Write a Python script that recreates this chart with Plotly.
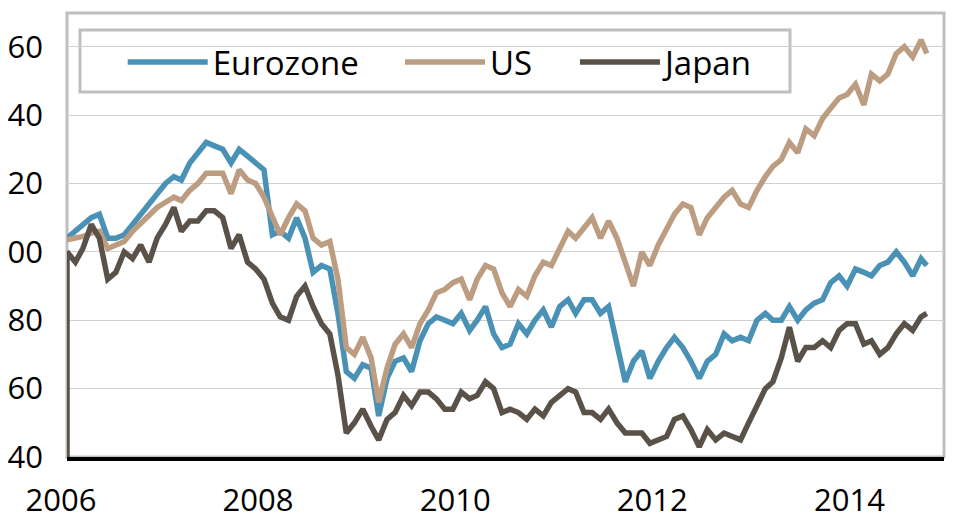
import pandas as pd
import plotly.graph_objects as go

# -----------------------------------
# Data (index levels, month starts)
# -----------------------------------

dates = list(
    pd.date_range("2006-01-01", "2014-09-01", freq="MS").strftime("%Y-%m-%d")
) + ["2014-09-22"]

eurozone = [
    104, 106, 108, 110, 111, 104, 104, 105, 108, 111, 114, 117, 120, 122, 121, 126, 129, 132,
    131, 130, 126, 130, 128, 126, 124, 105, 106, 104, 110, 104, 94, 96, 95, 82, 65, 63,
    67, 66, 52, 63, 68, 69, 65, 74, 79, 81, 80, 79, 82, 77, 80, 84, 76, 72,
    73, 79, 76, 80, 83, 78, 84, 86, 82, 86, 86, 82, 84, 72, 62, 68, 71, 63,
    68, 72, 75, 72, 68, 63, 68, 70, 76, 74, 75, 74, 80, 82, 80, 80, 84,
    80, 83, 85, 86, 91, 93, 90, 95, 94, 93, 96, 97, 100, 97, 93, 98,
    96,
]

us = [
    103.5, 104, 104.5, 105.5, 106, 101, 102, 103, 106, 108.5, 111, 113, 114.5, 116, 115, 118, 120, 123,
    123, 123, 117, 124, 121, 120, 116, 110, 105, 110, 114, 112, 104, 102, 103, 92, 72, 70,
    75, 69, 56, 66, 73, 76, 72, 79, 83, 88, 89, 91, 92, 86, 92, 96, 95, 88,
    84, 89, 87, 93, 97, 96, 101, 106, 104, 107, 110, 104, 109, 104, 97, 90, 100, 96,
    102, 107, 111, 114, 113, 105, 110, 113, 116, 118, 114, 113, 118, 122, 125, 127, 132,
    129, 136, 134, 139, 142, 145, 146, 149, 143, 152, 150, 152, 158, 160, 157, 162,
    158,
]

# first Japan value sits on the axis floor in the source (vertical start line)
japan_dates = [dates[0]] + dates
japan = [
    40,
    100, 97, 101, 108, 104, 92, 94, 100, 98, 102, 97, 104, 108, 113, 106, 109, 109, 112,
    112, 110, 101, 105, 97, 95, 92, 85, 81, 80, 87, 90, 84, 79, 76, 64, 47, 50,
    54, 49, 45, 51, 53, 58, 55, 59, 59, 57, 54, 54, 59, 57, 58, 62, 60, 53,
    54, 53, 51, 54, 52, 56, 58, 60, 59, 53, 53, 51, 54, 50, 47, 47, 47, 44,
    45, 46, 51, 52, 48, 43, 48, 45, 47, 46, 45, 50, 55, 60, 62, 69, 78,
    68, 72, 72, 74, 72, 77, 79, 79, 73, 74, 70, 72, 76, 79, 77, 81,
    82,
]

year_ticks = ["2006-01-01", "2008-01-01", "2010-01-01", "2012-01-01", "2014-01-01"]
year_labels = ["2006", "2008", "2010", "2012", "2014"]
y_ticks = [40, 60, 80, 100, 120, 140, 160]

BLUE = "#4A91B6"
TAN = "#BC9D82"
DARK = "#5A5249"
FONT = "Open Sans"

# -----------------------------------
# Figure
# -----------------------------------

fig = go.Figure()

fig.add_trace(go.Scatter(
    x=dates, y=eurozone, name="Eurozone", mode="lines",
    line=dict(color=BLUE, width=5.5), legend="legend",
))

fig.add_trace(go.Scatter(
    x=dates, y=us, name="US", mode="lines",
    line=dict(color=TAN, width=5.5), legend="legend2",
))

fig.add_trace(go.Scatter(
    x=japan_dates, y=japan, name="Japan", mode="lines",
    line=dict(color=DARK, width=5.5), legend="legend3",
))

legend_style = dict(
    orientation="h",
    xanchor="left",
    yanchor="middle",
    y=0.8896,
    bgcolor="rgba(0,0,0,0)",
    borderwidth=0,
    itemwidth=80,
    font=dict(family=FONT, size=33, color="black"),
)

# page body adds an 8px offset, so the figure is 8px smaller than the window
fig.update_layout(
    width=952,
    height=510,
    margin=dict(l=59, r=16, t=5, b=61),
    paper_bgcolor="white",
    plot_bgcolor="white",
    font=dict(family=FONT, size=31, color="black"),
    showlegend=True,
    legend=dict(legend_style, x=0.0635),
    legend2=dict(legend_style, x=0.3797),
    legend3=dict(legend_style, x=0.5792),
    xaxis=dict(
        type="date",
        range=["2006-01-01", "2014-11-25"],
        tickvals=year_ticks,
        ticktext=year_labels,
        automargin=False,
        showgrid=False,
        zeroline=False,
        showline=True,
        linecolor="black",
        linewidth=4,
        ticks="",
        ticklabelshift=-6,
        ticklabelstandoff=13,
        tickfont=dict(family=FONT, size=31, color="black"),
    ),
    yaxis=dict(
        range=[40, 169.86],
        tickvals=y_ticks,
        automargin=False,
        showgrid=True,
        gridcolor="#D0D0D0",
        gridwidth=1,
        zeroline=False,
        showline=False,
        ticks="",
        ticklabelstandoff=23,
        tickfont=dict(family=FONT, size=31, color="black"),
    ),
    shapes=[
        # plot frame
        dict(type="rect", xref="paper", yref="paper", x0=0, x1=1, y0=0, y1=1,
             line=dict(color="#BFBFBF", width=3), layer="below"),
        # legend box
        dict(type="rect", xref="paper", yref="paper",
             x0=0.0148, x1=0.8244, y0=0.8221, y1=0.9617,
             line=dict(color="#BFBFBF", width=3), fillcolor="white",
             layer="between"),
    ],
)

fig.write_html("out.html")
